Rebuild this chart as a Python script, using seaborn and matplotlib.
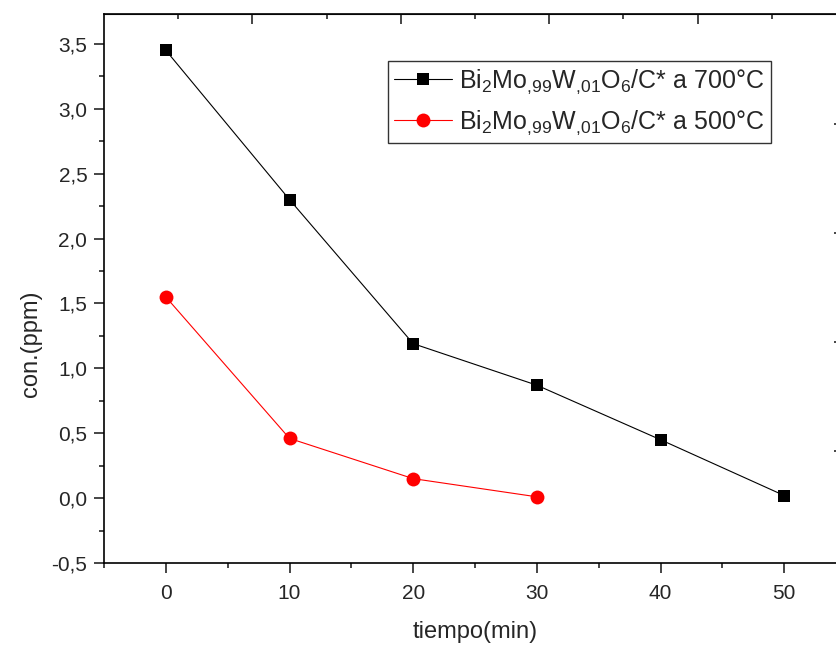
import numpy as np
import pandas as pd
import matplotlib
matplotlib.use("Agg")
import matplotlib.pyplot as plt
import seaborn as sns
from matplotlib.ticker import MultipleLocator, FixedLocator, FuncFormatter, NullFormatter

# data
tiempo_700 = [0, 10, 20, 30, 40, 50]
con_700 = [3.45, 2.30, 1.19, 0.87, 0.45, 0.02]
tiempo_500 = [0, 10, 20, 30]
con_500 = [1.55, 0.46, 0.15, 0.01]

label_700 = "Bi$_{2}$Mo$_{{,}99}$W$_{{,}01}$O$_{6}$/C* a 700°C"
label_500 = "Bi$_{2}$Mo$_{{,}99}$W$_{{,}01}$O$_{6}$/C* a 500°C"

sns.set_style("ticks")
plt.rcParams["font.family"] = ["Liberation Sans", "DejaVu Sans"]
plt.rcParams["mathtext.fontset"] = "custom"
plt.rcParams["mathtext.rm"] = "Liberation Sans"
plt.rcParams["mathtext.default"] = "regular"

df_700 = pd.DataFrame({"tiempo": tiempo_700, "con": con_700})
df_500 = pd.DataFrame({"tiempo": tiempo_500, "con": con_500})

fig = plt.figure(figsize=(8.36, 6.46), dpi=100)
W, H = 836, 646
# axes box in pixels: left 104, right 846 (cut off), top 14, bottom 563
ax = fig.add_axes([104 / W, 1 - 563 / H, (846 - 104) / W, (563 - 14) / H])

sns.lineplot(data=df_700, x="tiempo", y="con", ax=ax, color="black", lw=0.8,
             marker="s", markersize=8.5, markeredgewidth=0, label=label_700)
sns.lineplot(data=df_500, x="tiempo", y="con", ax=ax, color="red", lw=0.8,
             marker="o", markersize=10, markeredgewidth=0, label=label_500)

ax.set_xlim(-5, 55)
ax.set_ylim(-0.5, 3.73)
ax.xaxis.set_major_locator(MultipleLocator(10))
ax.xaxis.set_minor_locator(MultipleLocator(5))
ax.yaxis.set_major_locator(MultipleLocator(0.5))
ax.yaxis.set_minor_locator(MultipleLocator(0.25))
ax.yaxis.set_major_formatter(FuncFormatter(lambda v, p: f"{v:.1f}".replace(".", ",")))

for s in ax.spines.values():
    s.set_linewidth(1.2)
    s.set_color("black")
ax.tick_params(which="major", direction="out", length=7, width=1.2, labelsize=15,
               top=False, right=False, pad=5)
ax.tick_params(axis="x", which="major", pad=8)
ax.tick_params(which="minor", direction="out", length=3.5, width=1.2, top=False, right=False)

# top axis ticks (independent scale in the original)
top = ax.secondary_xaxis("top")
top.xaxis.set_major_locator(FixedLocator([7, 19, 31, 43]))
top.xaxis.set_minor_locator(FixedLocator([1, 13, 25, 37, 49]))
top.xaxis.set_major_formatter(NullFormatter())
top.tick_params(which="major", direction="in", length=7, width=1.2)
top.tick_params(which="minor", direction="in", length=3.5, width=1.2)

right = ax.secondary_yaxis("right")
right.yaxis.set_major_locator(FixedLocator([0.36, 1.20, 2.04, 2.88]))
right.yaxis.set_minor_locator(FixedLocator([]))
right.yaxis.set_major_formatter(NullFormatter())
right.tick_params(which="major", direction="in", length=9, width=1.2)

ax.set_xlabel("tiempo(min)", fontsize=17, labelpad=13)
ax.set_ylabel("con.(ppm)", fontsize=17)
ax.yaxis.set_label_coords(-0.083, 0.40)

leg = ax.legend(loc="upper left", bbox_to_anchor=(388 / W, 1 - 61 / H),
                bbox_transform=fig.transFigure, fontsize=18, frameon=True,
                fancybox=False, handlelength=2.3, handletextpad=0.3,
                borderpad=0.25, labelspacing=0.5, borderaxespad=0)
leg.get_frame().set_edgecolor("black")
leg.get_frame().set_linewidth(1.0)

fig.savefig("out.png", dpi=100)
